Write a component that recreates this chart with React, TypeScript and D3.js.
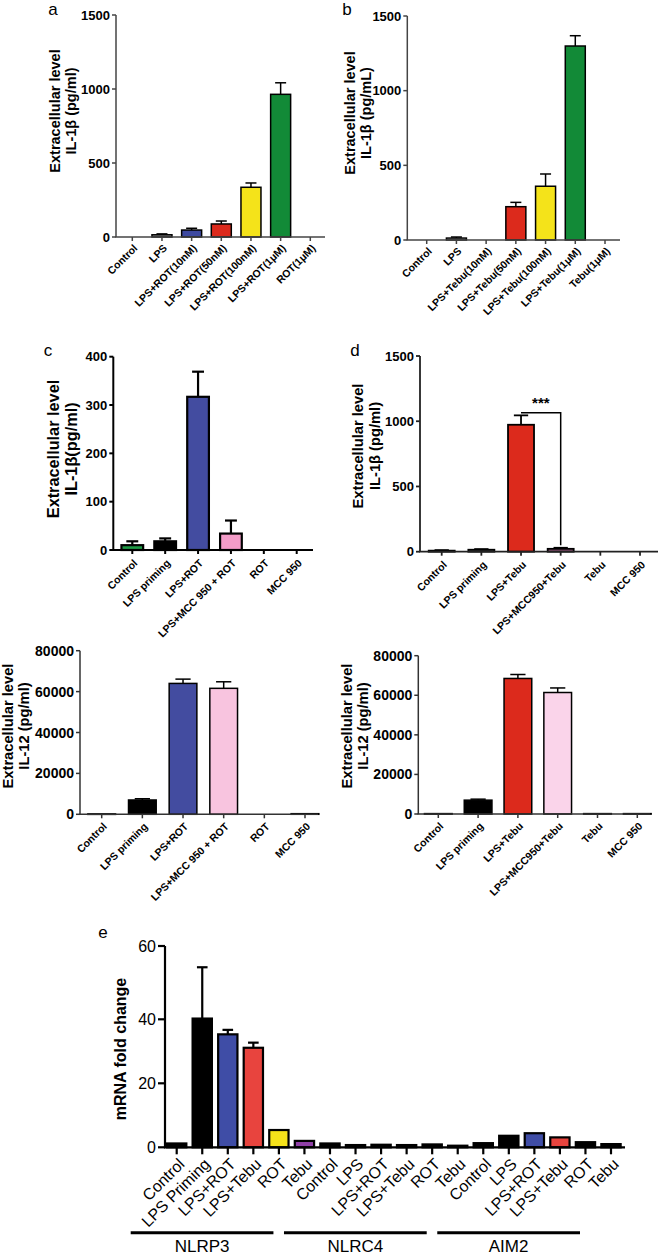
import React from 'react';
import * as d3 from 'd3';

const FONT = "'Liberation Sans', Arial, Helvetica, sans-serif";

// ---------- Panel a ----------
const aCats = ['Control', 'LPS', 'LPS+ROT(10nM)', 'LPS+ROT(50nM)', 'LPS+ROT(100nM)', 'LPS+ROT(1μM)', 'ROT(1μM)'];
const aVals = [0, 15, 47, 88, 336, 964, 0];
const aSem = [0, 6, 12, 20, 29, 78, 0];
const aColors = ['#ffffff', '#9a9a9a', '#3d49a0', '#dc2a1c', '#f4e31a', '#128a37', '#ffffff'];
const aTicks = [0, 500, 1000, 1500];

// ---------- Panel b ----------
const bCats = ['Control', 'LPS', 'LPS+Tebu(10nM)', 'LPS+Tebu(50nM)', 'LPS+Tebu(100nM)', 'LPS+Tebu(1μM)', 'Tebu(1μM)'];
const bVals = [0, 13, 0, 223, 360, 1299, 0];
const bSem = [0, 7, 0, 29, 82, 69, 0];
const bColors = ['#ffffff', '#cfcfcf', '#ffffff', '#dc2a1c', '#f4e31a', '#128a37', '#ffffff'];
const bTicks = [0, 500, 1000, 1500];

// ---------- Panel c (IL-1β) ----------
const cCats = ['Control', 'LPS priming', 'LPS+ROT', 'LPS+MCC 950 + ROT', 'ROT', 'MCC 950'];
const cVals = [10, 18, 317, 34, 0, 0];
const cSem = [8, 6, 52, 27, 0, 0];
const cColors = ['#1f9a45', '#000000', '#434ca0', '#f39cc8', '#ffffff', '#ffffff'];
const cTicks = [0, 100, 200, 300, 400];

// ---------- Panel d (IL-1β) ----------
const dCats = ['Control', 'LPS priming', 'LPS+Tebu', 'LPS+MCC950+Tebu', 'Tebu', 'MCC 950'];
const dVals = [8, 15, 973, 22, 0, 0];
const dSem = [4, 5, 72, 8, 0, 0];
const dColors = ['#000000', '#a8a8a8', '#dc2a1c', '#9a5a80', '#ffffff', '#ffffff'];
const dTicks = [0, 500, 1000, 1500];
const dSigLabel = '***';
const dSigTop = 1065;
const dSigBottom = 50;

// ---------- Panel c bottom (IL-12) ----------
const c2Cats = ['Control', 'LPS priming', 'LPS+ROT', 'LPS+MCC 950 + ROT', 'ROT', 'MCC 950'];
const c2Vals = [200, 7000, 64000, 61600, 0, 300];
const c2Sem = [0, 600, 2100, 3200, 0, 0];
const c2Colors = ['#000000', '#000000', '#434ca0', '#f8c4df', '#ffffff', '#000000'];
const c2Ticks = [0, 20000, 40000, 60000, 80000];

// ---------- Panel d bottom (IL-12) ----------
const d2Cats = ['Control', 'LPS priming', 'LPS+Tebu', 'LPS+MCC950+Tebu', 'Tebu', 'MCC 950'];
const d2Vals = [200, 7000, 68500, 61400, 200, 200];
const d2Sem = [0, 500, 2000, 2300, 0, 0];
const d2Colors = ['#000000', '#000000', '#dc2a1c', '#fad4ea', '#000000', '#000000'];
const d2Ticks = [0, 20000, 40000, 60000, 80000];

// ---------- Panel e (mRNA) ----------
const eCats = [
  'Control', 'LPS Priming', 'LPS+ROT', 'LPS+Tebu', 'ROT', 'Tebu',
  'Control', 'LPS', 'LPS+ROT', 'LPS+Tebu', 'ROT', 'Tebu',
  'Control', 'LPS', 'LPS+ROT', 'LPS+Tebu', 'ROT', 'Tebu',
];
const eVals = [1.2, 40.2, 35.3, 31.1, 5.4, 2.0, 1.2, 0.7, 0.8, 0.7, 0.9, 0.5, 1.3, 3.6, 4.4, 3.1, 1.6, 1.0];
const eSem = [0, 14, 1.4, 1.6, 0, 0, 0, 0, 0, 0, 0, 0, 0, 0, 0, 0, 0, 0];
const eColors = [
  '#000000', '#000000', '#3f4da6', '#e8443e', '#f5e21a', '#8f3fa6',
  '#000000', '#000000', '#000000', '#000000', '#000000', '#000000',
  '#000000', '#000000', '#3f4da6', '#e8443e', '#000000', '#000000',
];
const eTicks = [0, 20, 40, 60];
const eGroups = ['NLRP3', 'NLRC4', 'AIM2'];
const eGroupSize = 6;

type PanelProps = {
  cats: string[];
  vals: number[];
  sem: number[];
  colors: string[];
  ticks: number[];
  yDomain: number[];
  yRange: number[];
  axisX: number;
  xFirst: number;
  xLast: number;
  xEnd: number;
  barW: number;
  strokeW: number;
  axisW: number;
  axisColor: string;
  tickFont: number;
  tickBold: boolean;
  tickLen: number;
  xLabelFont: number;
  xLabelBold: boolean;
  xLabelDx: number;
  xLabelDy: number;
  titleLines: string[];
  titleXs: number[];
  titleY: number;
  titleFont: number;
  letter: string;
  letterX: number;
  letterY: number;
  children?: (x: any, y: any) => React.ReactNode;
};

function BarPanel(p: PanelProps) {
  const y = d3.scaleLinear().domain(p.yDomain).range(p.yRange);
  const x = d3.scalePoint<number>().domain(d3.range(p.cats.length)).range([p.xFirst, p.xLast]);
  const y0 = y(0);
  const yTop = y(p.ticks[p.ticks.length - 1]);
  const capW = p.barW * 0.55;
  return (
    <g>
      <text x={p.letterX} y={p.letterY} fontSize={17} fontFamily={FONT} dominantBaseline="central" textAnchor="middle">{p.letter}</text>
      {p.titleLines.map((t, i) => (
        <text key={i} transform={`translate(${p.titleXs[i]},${p.titleY}) rotate(-90)`} fontSize={p.titleFont}
          fontWeight="bold" fontFamily={FONT} textAnchor="middle" dominantBaseline="central">{t}</text>
      ))}
      {p.vals.map((v, i) => {
        if (v <= 0) return null;
        const cx = x(i)!;
        const top = y(v);
        return (
          <g key={i}>
            {p.sem[i] > 0 && (
              <g stroke="#000" strokeWidth={p.strokeW}>
                <line x1={cx} x2={cx} y1={top} y2={y(v + p.sem[i])} />
                <line x1={cx - capW / 2} x2={cx + capW / 2} y1={y(v + p.sem[i])} y2={y(v + p.sem[i])} />
              </g>
            )}
            <rect x={cx - p.barW / 2} y={top} width={p.barW} height={Math.max(0.5, y0 - top)}
              fill={p.colors[i]} stroke="#000" strokeWidth={p.strokeW} />
          </g>
        );
      })}
      <line x1={p.axisX} x2={p.axisX} y1={yTop} y2={y0} stroke={p.axisColor} strokeWidth={p.axisW} />
      <line x1={p.axisX - p.axisW / 2} x2={p.xEnd} y1={y0} y2={y0} stroke={p.axisColor} strokeWidth={p.axisW} />
      {p.ticks.map((t) => (
        <g key={t}>
          <line x1={p.axisX - p.tickLen} x2={p.axisX} y1={y(t)} y2={y(t)} stroke={p.axisColor} strokeWidth={p.axisW} />
          <text x={p.axisX - p.tickLen - 2} y={y(t)} fontSize={p.tickFont} fontWeight={p.tickBold ? 'bold' : 'normal'}
            fontFamily={FONT} textAnchor="end" dominantBaseline="central">{t}</text>
        </g>
      ))}
      {p.cats.map((c, i) => (
        <g key={i}>
          <line x1={x(i)} x2={x(i)} y1={y0} y2={y0 + p.tickLen} stroke={p.axisColor} strokeWidth={p.axisW} />
          <text transform={`translate(${x(i)! + p.xLabelDx},${y0 + p.xLabelDy}) rotate(-45)`} fontSize={p.xLabelFont}
            fontWeight={p.xLabelBold ? 'bold' : 'normal'} fontFamily={FONT} textAnchor="end" dominantBaseline="central">{c}</text>
        </g>
      ))}
      {p.children && p.children(x, y)}
    </g>
  );
}

export default function App() {
  const smallCommon = {
    tickFont: 13, tickBold: true, tickLen: 4, xLabelFont: 10.5, xLabelBold: true, xLabelDx: 3, xLabelDy: 9,
  };
  return (
    <svg width={660} height={1257} style={{ position: 'absolute', left: 0, top: 0, background: '#fff' }}>
      <rect width={660} height={1257} fill="#fff" />
      <BarPanel {...smallCommon} cats={aCats} vals={aVals} sem={aSem} colors={aColors} ticks={aTicks}
        yDomain={[0, 1500]} yRange={[237, 15]} axisX={116} xFirst={132.3} xLast={310.3} xEnd={325}
        barW={20} strokeW={1.5} axisW={1.5} axisColor="#444"
        titleLines={['Extracellular level', 'IL-1β  (pg/ml)']} titleXs={[55, 71]} titleY={111} titleFont={14.5}
        letter="a" letterX={53} letterY={9} />
      <BarPanel {...smallCommon} cats={bCats} vals={bVals} sem={bSem} colors={bColors} ticks={bTicks}
        yDomain={[0, 1500]} yRange={[240, 16]} axisX={407.3} xFirst={426.7} xLast={605} xEnd={620}
        barW={20} strokeW={1.5} axisW={1.5} axisColor="#444"
        titleLines={['Extracellular level', 'IL-1β  (pg/mL)']} titleXs={[350, 366]} titleY={113} titleFont={14.5}
        letter="b" letterX={347} letterY={9} />
      <BarPanel {...smallCommon} cats={cCats} vals={cVals} sem={cSem} colors={cColors} ticks={cTicks}
        yDomain={[0, 400]} yRange={[550, 356.7]} axisX={113.3} xFirst={132.3} xLast={296.7} xEnd={313}
        barW={21.7} strokeW={2.2} axisW={2} axisColor="#000" xLabelDy={11}
        titleLines={['Extracellular level', 'IL-1β(pg/ml)']} titleXs={[53, 71]} titleY={449} titleFont={16.3}
        letter="c" letterX={48} letterY={350} />
      <BarPanel {...smallCommon} cats={dCats} vals={dVals} sem={dSem} colors={dColors} ticks={dTicks}
        yDomain={[0, 1500]} yRange={[551.7, 356]} axisX={420} xFirst={441.7} xLast={640} xEnd={658}
        barW={26} strokeW={1.8} axisW={1.8} axisColor="#222" xLabelDy={11}
        titleLines={['Extracellular level', 'IL-1β (pg/ml)']} titleXs={[358, 375]} titleY={446} titleFont={14.7}
        letter="d" letterX={355} letterY={350}>
        {(x: any, y: any) => {
          const x1 = x(2);
          const x2 = x(3);
          return (
            <g>
              <path d={`M${x1},${y(dSigTop)}H${x2}V${y(dSigBottom)}`} fill="none" stroke="#000" strokeWidth={1.5} />
              <text x={(x1 + x2) / 2} y={y(dSigTop) - 5} fontSize={15} fontWeight="bold" fontFamily={FONT}
                textAnchor="middle">{dSigLabel}</text>
            </g>
          );
        }}
      </BarPanel>
      <BarPanel {...smallCommon} tickFont={14} cats={c2Cats} vals={c2Vals} sem={c2Sem} colors={c2Colors} ticks={c2Ticks}
        yDomain={[0, 80000]} yRange={[814.3, 650.7]} axisX={80} xFirst={101.7} xLast={305} xEnd={318}
        barW={27.7} strokeW={1.5} axisW={1.5} axisColor="#333" xLabelDy={10}
        titleLines={['Extracellular level', 'IL-12 (pg/ml)']} titleXs={[8, 24]} titleY={726} titleFont={14.7}
        letter="" letterX={0} letterY={0} />
      <BarPanel {...smallCommon} tickFont={14} cats={d2Cats} vals={d2Vals} sem={d2Sem} colors={d2Colors} ticks={d2Ticks}
        yDomain={[0, 80000]} yRange={[814, 655.7]} axisX={418.3} xFirst={438.3} xLast={637.3} xEnd={650}
        barW={27.7} strokeW={1.5} axisW={1.5} axisColor="#333" xLabelDy={10}
        titleLines={['Extracellular level', 'IL-12 (pg/ml)']} titleXs={[347, 363]} titleY={726} titleFont={14.7}
        letter="" letterX={0} letterY={0} />
      <BarPanel cats={eCats} vals={eVals} sem={eSem} colors={eColors} ticks={eTicks}
        yDomain={[0, 40, 60]} yRange={[1147.3, 1019.3, 946]} axisX={165} xFirst={176.7} xLast={611} xEnd={625}
        barW={19.3} strokeW={2.2} axisW={2.2} axisColor="#000"
        tickFont={16} tickBold={false} tickLen={7} xLabelFont={16} xLabelBold={false} xLabelDx={5} xLabelDy={14}
        titleLines={['mRNA fold change']} titleXs={[120]} titleY={1049} titleFont={16}
        letter="e" letterX={103} letterY={932}>
        {(x: any) => (
          <g>
            {eGroups.map((g, gi) => {
              const s = x(gi * eGroupSize)! - 46;
              const e = x(gi * eGroupSize + eGroupSize - 1)! - 31;
              return (
                <g key={g}>
                  <line x1={s} x2={e} y1={1232.7} y2={1232.7} stroke="#000" strokeWidth={3} />
                  <text x={(s + e) / 2} y={1246} fontSize={17} fontFamily={FONT} textAnchor="middle"
                    dominantBaseline="central">{g}</text>
                </g>
              );
            })}
          </g>
        )}
      </BarPanel>
    </svg>
  );
}
